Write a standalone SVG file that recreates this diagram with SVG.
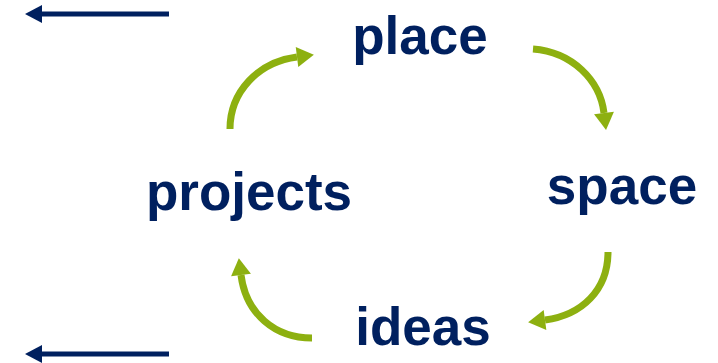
<svg xmlns="http://www.w3.org/2000/svg" width="718" height="363" viewBox="0 0 718 363">
<style>
.lbl{font-family:"Liberation Sans",Arial,sans-serif;font-weight:bold;font-size:53px;fill:#00205f;text-anchor:middle}
.g{fill:none;stroke:#8db010;stroke-width:7}
.n{fill:none;stroke:#00205f;stroke-width:5}
</style>
<defs>
<marker id="mg" markerUnits="userSpaceOnUse" markerWidth="20" markerHeight="22" refX="0" refY="11" orient="auto" overflow="visible">
<path d="M0,1 L17,11 L0,21 Z" fill="#8db010"/>
</marker>
<marker id="mn" markerUnits="userSpaceOnUse" markerWidth="20" markerHeight="20" refX="0" refY="9" orient="auto" overflow="visible">
<path d="M0,0 L17,9 L0,18 Z" fill="#00205f"/>
</marker>
</defs>
<g id="place"><text class="lbl" x="420" y="54">place</text></g>
<g id="space"><text class="lbl" x="622" y="204">space</text></g>
<g id="ideas"><text class="lbl" x="423" y="345">ideas</text></g>
<g id="projects"><text class="lbl" x="249" y="210">projects</text></g>
<g id="connectors">
<path class="g" d="M230,129 C230,92 258,62 297,57" marker-end="url(#mg)"/>
<path class="g" d="M533,49 C572,52 600,80 604,113" marker-end="url(#mg)"/>
<path class="g" d="M608,252 C608,290 582,315 545,320" marker-end="url(#mg)"/>
<path class="g" d="M312,338 C275,338 246,314 241,275" marker-end="url(#mg)"/>
<path class="n" d="M169,14 L42,14" marker-end="url(#mn)"/>
<path class="n" d="M169,354 L42,354" marker-end="url(#mn)"/>
</g>
</svg>
